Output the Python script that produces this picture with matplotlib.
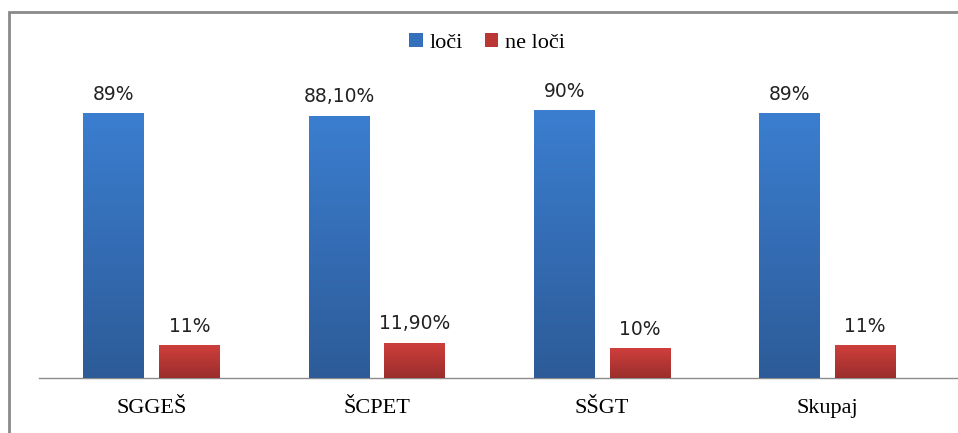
import numpy as np
import matplotlib
matplotlib.use("Agg")
import matplotlib.pyplot as plt
from matplotlib.patches import Rectangle
from matplotlib.colors import LinearSegmentedColormap

# --- podatki ---
kategorije = ["SGGEŠ", "ŠCPET", "SŠGT", "Skupaj"]
loci = [0.89, 0.881, 0.90, 0.89]
ne_loci = [0.11, 0.119, 0.10, 0.11]
oznake_loci = ["89%", "88,10%", "90%", "89%"]
oznake_ne_loci = ["11%", "11,90%", "10%", "11%"]

fig = plt.figure(figsize=(9.58, 4.33), dpi=100)
ax = fig.add_axes([39 / 958, 55 / 433, 1 - 39 / 958, (378 - 80.5) / 433])

x = np.arange(len(kategorije))
w = 0.27
off = 0.168

blue_cmap = LinearSegmentedColormap.from_list("b", ["#2d5b98", "#3b7ed0"])
red_cmap = LinearSegmentedColormap.from_list("r", ["#9a2e2c", "#cf3f3c"])

b1 = ax.bar(x - off, loci, w, color="#3470bb", label="loči", zorder=2)
b2 = ax.bar(x + off, ne_loci, w, color="#bb3735", label="ne loči", zorder=2)

# gradient na stolpcih
grad = np.linspace(0, 1, 256).reshape(-1, 1)
for bars, cmap in ((b1, blue_cmap), (b2, red_cmap)):
    for r in bars:
        x0, y0 = r.get_x(), r.get_y()
        im = ax.imshow(grad, cmap=cmap, origin="lower", aspect="auto",
                       extent=[x0, x0 + r.get_width(), y0, y0 + r.get_height()],
                       zorder=3)
        im.set_clip_path(r)

for bars, labs in ((b1, oznake_loci), (b2, oznake_ne_loci)):
    for r, t in zip(bars, labs):
        ax.annotate(t, (r.get_x() + r.get_width() / 2, r.get_height()),
                    xytext=(0, 7), textcoords="offset points",
                    ha="center", va="bottom", fontsize=13.5,
                    family="DejaVu Sans", color="#222222")

ax.set_xlim(-0.5, 3.58)
ax.set_ylim(0, 1.0)
ax.set_xticks(x)
ax.set_xticklabels(kategorije, family="Liberation Serif", fontsize=16)
ax.tick_params(axis="x", length=0, pad=15)
ax.set_yticks([])
for s in ("left", "right", "top"):
    ax.spines[s].set_visible(False)
ax.spines["bottom"].set_color("#8c8c8c")
ax.spines["bottom"].set_linewidth(1)

leg = fig.legend(loc="center", bbox_to_anchor=(487 / 958, 1 - 43 / 433),
                 ncol=2, frameon=False, prop={"family": "Liberation Serif", "size": 16},
                 handlelength=0.6, handleheight=0.6, handletextpad=0.3,
                 columnspacing=1.0)

# okvir grafa
fig.patches.append(Rectangle((8.5 / 958, -0.1), 1.2, 1 - 12.5 / 433 + 0.1,
                             transform=fig.transFigure, fill=False,
                             edgecolor="#8a8a8a", linewidth=2))

fig.savefig("out.png", dpi=100)
